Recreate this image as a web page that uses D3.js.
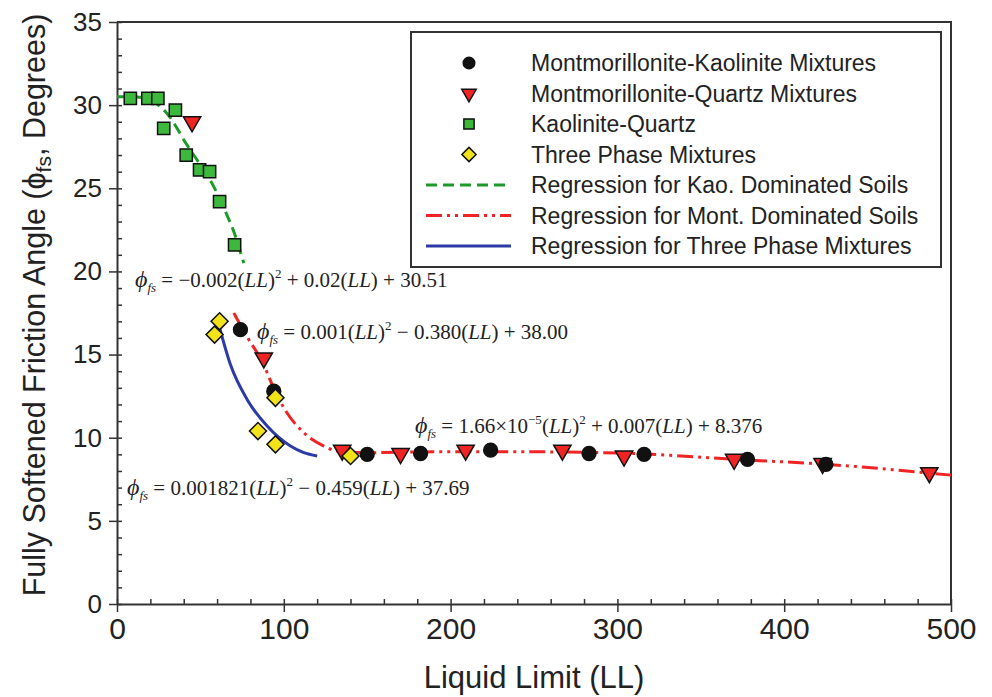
<!DOCTYPE html>
<html>
<head>
<meta charset="utf-8">
<script src="https://cdn.jsdelivr.net/npm/d3@7"></script>
<style>
  body { margin: 0; background: #fff; }
  svg text { fill: #222; }
</style>
</head>
<body>
<svg id="chart" width="992" height="697"></svg>
<script>
// data: [Liquid Limit, friction angle]
var montKao = [[74,16.5],[94,12.8],[150,9.0],[182,9.05],[224,9.25],[283,9.05],[316,9.0],[378,8.7],[425,8.4]];
var montQuartz = [[45,29.0],[88,14.8],[135,9.25],[170,9.05],[209,9.25],[267,9.25],[304,8.9],[370,8.7],[423,8.45],[487,7.9]];
var kaoQuartz = [[8,30.4],[18.5,30.4],[24.5,30.4],[35,29.7],[28,28.6],[41.5,27.0],[49.5,26.1],[55.5,26.0],[61.5,24.2],[70.5,21.6]];
var threePhase = [[61.5,17.0],[58.5,16.2],[95,12.4],[84.5,10.4],[95,9.6],[140,8.9]];

// regression curves as drawn
var kaoFit = [[0,30.5],[10,30.5],[20,30.3],[30,29.5],[42,27.6],[50,26.4],[58,25.1],[65,23.6],[70,22.4],[76,20.5]];
var montFit = [[70,17.5],[79,15.9],[87,14.6],[93,13.2],[100,11.8],[112,10.3],[124,9.5],[132,9.2],[150,9.1],[190,9.15],[250,9.15],[310,9.05],[370,8.7],[425,8.4],[500,7.75]];
var threeFit = [[61,16.8],[68,14.4],[78,12.3],[90,10.7],[104,9.5],[112,9.1],[120,8.9]];

var xTicks = [0,100,200,300,400,500];
var yTicks = [0,5,10,15,20,25,30,35];

var legendItems = [
  {label: "Montmorillonite-Kaolinite Mixtures", type: "circle"},
  {label: "Montmorillonite-Quartz Mixtures", type: "triangle"},
  {label: "Kaolinite-Quartz", type: "square"},
  {label: "Three Phase Mixtures", type: "diamond"},
  {label: "Regression for Kao. Dominated Soils", type: "kao"},
  {label: "Regression for Mont. Dominated Soils", type: "mont"},
  {label: "Regression for Three Phase Mixtures", type: "three"}
];

var svg = d3.select("#chart"),
    margin = {top: 22, right: 41, bottom: 93, left: 117},
    width = 992 - margin.left - margin.right,
    height = 697 - margin.top - margin.bottom,
    g = svg.append("g").attr("transform", "translate(" + margin.left + "," + margin.top + ")");

var x = d3.scaleLinear().domain([0, 500]).range([0, width]);
var y = d3.scaleLinear().domain([0, 35]).range([height, 0]);

var axisColor = "#333";
var green = "#3cb83c", greenLine = "#1e9a2a", red = "#f02424", blue = "#2c3aa6", yellow = "#f1e21a";

var markStyle = {
  circle: {type: d3.symbolCircle, size: 150, fill: "#111", rot: 0},
  triangle: {type: d3.symbolTriangle, size: 130, fill: red, rot: 180},
  square: {type: d3.symbolSquare, size: 150, fill: green, rot: 0},
  diamond: {type: d3.symbolSquare, size: 145, fill: yellow, rot: 45}
};
var lineStyle = {
  kao: {color: greenLine, dash: "11,6"},
  mont: {color: red, dash: "16,5,3,5,3,5"},
  three: {color: blue, dash: null}
};
function symbolPath(type, scale) {
  return d3.symbol().type(markStyle[type].type).size(markStyle[type].size * scale)();
}

// frame (top and right)
g.append("path")
    .attr("d", "M0,0H" + width + "V" + height)
    .attr("fill", "none")
    .attr("stroke", axisColor)
    .attr("stroke-width", 2);

// minor ticks inside
g.append("g")
    .attr("class", "axis axis--x-minor")
    .attr("transform", "translate(0," + height + ")")
    .call(d3.axisTop(x).tickValues(d3.range(0, 501, 20)).tickSize(5).tickFormat(""))
    .call(function(s) { s.select(".domain").remove(); });
g.append("g")
    .attr("class", "axis axis--y-minor")
    .call(d3.axisRight(y).tickValues(d3.range(0, 36, 1)).tickSize(5).tickFormat(""))
    .call(function(s) { s.select(".domain").remove(); });

// major axes
var xAxis = g.append("g")
    .attr("class", "axis axis--x")
    .attr("transform", "translate(0," + height + ")")
    .call(d3.axisBottom(x).tickValues(xTicks).tickSize(8).tickSizeOuter(0).tickPadding(6));
xAxis.selectAll("text")
    .style("font-family", "'Liberation Sans Narrow', 'Liberation Sans', Arial, sans-serif")
    .style("font-size", "30px");

var yAxis = g.append("g")
    .attr("class", "axis axis--y")
    .call(d3.axisLeft(y).tickValues(yTicks).tickSize(8).tickSizeOuter(0).tickPadding(7));
yAxis.selectAll("text")
    .style("font-family", "'Liberation Sans', Arial, sans-serif")
    .style("font-size", "26px");

svg.selectAll(".axis path, .axis line").attr("stroke", axisColor).attr("stroke-width", 1.5);
svg.selectAll(".axis--x .domain, .axis--y .domain").attr("stroke-width", 2);
svg.selectAll(".axis text").attr("fill", "#222");

// axis titles
svg.append("text")
    .attr("x", margin.left + width / 2)
    .attr("y", 688)
    .attr("text-anchor", "middle")
    .style("font-family", "'Liberation Sans Narrow', 'Liberation Sans', Arial, sans-serif")
    .style("font-size", "31px")
    .text("Liquid Limit (LL)");

var yTitle = svg.append("text")
    .attr("transform", "translate(45," + (margin.top + height / 2 - 8) + ") rotate(-90)")
    .attr("text-anchor", "middle")
    .style("font-family", "'Liberation Sans', Arial, sans-serif")
    .style("font-size", "30.5px");
yTitle.append("tspan").text("Fully Softened Friction Angle (\u03d5");
yTitle.append("tspan").attr("dy", 6).style("font-size", "21px").text("fs");
yTitle.append("tspan").attr("dy", -6).text(", Degrees)");

// regression lines
var line = d3.line()
    .x(function(d) { return x(d[0]); })
    .y(function(d) { return y(d[1]); })
    .curve(d3.curveMonotoneX);

[[kaoFit, "kao"], [montFit, "mont"], [threeFit, "three"]].forEach(function(f) {
  g.append("path").datum(f[0])
      .attr("d", line)
      .attr("fill", "none")
      .attr("stroke", lineStyle[f[1]].color)
      .attr("stroke-width", 3)
      .attr("stroke-dasharray", lineStyle[f[1]].dash);
});

// data points
function drawPoints(data, type) {
  g.append("g")
      .attr("class", "serie")
    .selectAll("path")
    .data(data)
    .enter().append("path")
      .attr("d", symbolPath(type, 1))
      .attr("transform", function(d) { return "translate(" + x(d[0]) + "," + y(d[1]) + ") rotate(" + markStyle[type].rot + ")"; })
      .attr("fill", markStyle[type].fill)
      .attr("stroke", "#111")
      .attr("stroke-width", 1.5);
}
drawPoints(kaoQuartz, "square");
drawPoints(montQuartz, "triangle");
drawPoints(montKao, "circle");
drawPoints(threePhase, "diamond");

// equations
function equation(px, py, parts) {
  var t = svg.append("text")
      .attr("x", px).attr("y", py)
      .style("font-family", "'Liberation Serif', 'Times New Roman', serif")
      .style("font-size", "21px");
  t.append("tspan").style("font-style", "italic").style("font-size", "24px").text("\u03d5");
  t.append("tspan").style("font-style", "italic").style("font-size", "13px").attr("dy", 5).text("fs");
  var dy = -5;
  parts.forEach(function(p) {
    var s = t.append("tspan").text(p.t);
    if (p.it) s.style("font-style", "italic");
    if (p.sup) { s.style("font-size", "13px").attr("dy", dy - 9); dy = 9; }
    else { if (dy) s.attr("dy", dy); dy = 0; }
  });
}
equation(135, 287, [{t: " = \u22120.002("}, {t: "LL", it: true}, {t: ")"}, {t: "2", sup: true}, {t: " + 0.02("}, {t: "LL", it: true}, {t: ") + 30.51"}]);
equation(257, 339, [{t: " = 0.001("}, {t: "LL", it: true}, {t: ")"}, {t: "2", sup: true}, {t: " \u2212 0.380("}, {t: "LL", it: true}, {t: ") + 38.00"}]);
equation(415, 433, [{t: " = 1.66\u00d710"}, {t: "\u22125", sup: true}, {t: "("}, {t: "LL", it: true}, {t: ")"}, {t: "2", sup: true}, {t: " + 0.007("}, {t: "LL", it: true}, {t: ") + 8.376"}]);
equation(127, 495, [{t: " = 0.001821("}, {t: "LL", it: true}, {t: ")"}, {t: "2", sup: true}, {t: " \u2212 0.459("}, {t: "LL", it: true}, {t: ") + 37.69"}]);

// legend
svg.append("rect")
    .attr("x", 411).attr("y", 32).attr("width", 530).attr("height", 235)
    .attr("fill", "#fff").attr("stroke", axisColor).attr("stroke-width", 2);

var legend = svg.selectAll(".legend")
  .data(legendItems)
  .enter().append("g")
    .attr("class", "legend")
    .attr("transform", function(d, i) { return "translate(0," + (63 + i * 30.5) + ")"; });

legend.each(function(d) {
  var l = d3.select(this);
  if (markStyle[d.type]) {
    l.append("path")
        .attr("d", symbolPath(d.type, 0.7))
        .attr("transform", "translate(469,0) rotate(" + markStyle[d.type].rot + ")")
        .attr("fill", markStyle[d.type].fill)
        .attr("stroke", "#111")
        .attr("stroke-width", 1.5);
  } else {
    l.append("line")
        .attr("x1", 426).attr("x2", 511)
        .attr("stroke", lineStyle[d.type].color)
        .attr("stroke-width", 3)
        .attr("stroke-dasharray", lineStyle[d.type].dash);
  }
  l.append("text")
      .attr("x", 531)
      .attr("dy", "0.35em")
      .style("font-family", "'Liberation Sans', Arial, sans-serif")
      .style("font-size", "23px")
      .text(d.label);
});
</script>
</body>
</html>
